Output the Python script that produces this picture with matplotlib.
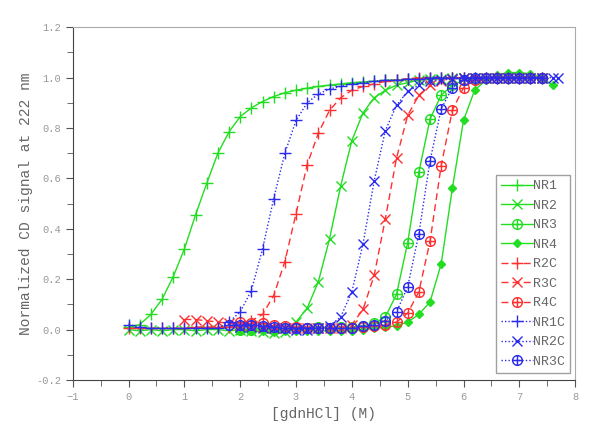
import numpy as np
import matplotlib
matplotlib.use("Agg")
import matplotlib.pyplot as plt
from matplotlib.path import Path

# gdnHCl concentration grid (M), shared by all series
gdn = [0.0, 0.2, 0.4, 0.6, 0.8, 1.0, 1.2, 1.4, 1.6, 1.8,
       2.0, 2.2, 2.4, 2.6, 2.8, 3.0, 3.2, 3.4, 3.6, 3.8,
       4.0, 4.2, 4.4, 4.6, 4.8, 5.0, 5.2, 5.4, 5.6, 5.8,
       6.0, 6.2, 6.4, 6.6, 6.8, 7.0, 7.2, 7.4, 7.6, 7.7]

# normalized CD signal, each series starts at gdn[start]
nr1 = [0.01, 0.02, 0.06, 0.12, 0.21, 0.32, 0.455, 0.58, 0.70, 0.785,
       0.845, 0.88, 0.905, 0.925, 0.94, 0.95, 0.958, 0.965, 0.97, 0.975,
       0.98, 0.983, 0.986, 0.989, 0.991, 0.993, 0.995, 0.996, 0.997, 0.998,
       0.999, 1.0, 1.0, 1.0, 1.0, 1.0, 1.0, 1.0]
nr2 = [0.0, -0.005, 0.0, -0.005, 0.0, 0.0, -0.005, 0.0, 0.0, -0.005,
       0.0, -0.005, -0.01, -0.015, -0.01, 0.03, 0.085, 0.19, 0.36, 0.57,
       0.75, 0.86, 0.92, 0.95, 0.97, 0.98, 0.99, 0.993, 0.996, 0.998,
       1.0, 1.0, 1.0, 1.0, 1.0, 1.0, 1.0, 1.0]
nr3 = [0.0, 0.0, 0.005, 0.0, 0.005, 0.005, 0.005, 0.01, 0.005, 0.01,
       0.01, 0.015, 0.025, 0.05, 0.14, 0.345, 0.625, 0.835, 0.93, 0.97,
       0.99, 0.995, 1.0, 1.0, 1.0, 1.0, 1.0, 1.0]
nr4 = [-0.005, -0.005, -0.005, -0.01, -0.005, -0.005, -0.005, -0.005, -0.005, -0.005,
       -0.005, 0.0, 0.005, 0.01, 0.015, 0.03, 0.06, 0.11, 0.26, 0.56,
       0.83, 0.95, 0.99, 1.01, 1.02, 1.02, 1.015, 1.0, 0.97]
r2c = [0.005, 0.005, 0.005, 0.005, 0.005, 0.005, 0.01, 0.01, 0.01, 0.01,
       0.02, 0.035, 0.06, 0.135, 0.27, 0.46, 0.655, 0.78, 0.87, 0.92,
       0.95, 0.965, 0.975, 0.985, 0.99, 0.995, 1.0, 1.0, 1.0, 1.0,
       1.0, 1.0, 1.0, 1.0, 1.0, 1.0, 1.0, 1.0]
r3c = [0.04, 0.04, 0.035, 0.03, 0.025, 0.02, 0.015, 0.01, 0.005, 0.005,
       0.005, 0.005, 0.005, 0.005, 0.005, 0.02, 0.08, 0.215, 0.44, 0.68,
       0.85, 0.93, 0.97, 0.985, 0.995, 1.0, 1.0, 1.0, 1.0, 1.0,
       1.0, 1.0, 1.0]
r4c = [0.03, 0.028, 0.025, 0.02, 0.015, 0.01, 0.005, 0.005, 0.005, 0.005,
       0.005, 0.01, 0.015, 0.02, 0.03, 0.065, 0.15, 0.35, 0.65, 0.87,
       0.96, 0.99, 1.0, 1.0, 1.0, 1.0, 1.0, 1.0]
nr1c = [0.02, 0.01, 0.005, 0.005, 0.005, 0.005, 0.005, 0.005, 0.005, 0.03,
        0.07, 0.155, 0.32, 0.52, 0.70, 0.83, 0.90, 0.935, 0.955, 0.965,
        0.975, 0.98, 0.985, 0.99, 0.99, 0.995, 0.995, 1.0, 1.0, 1.0,
        1.0, 1.0, 1.0, 1.0, 1.0, 1.0, 1.0, 1.0]
nr2c = [0.01, 0.01, 0.005, 0.005, 0.005, 0.0, 0.0, 0.005, 0.015, 0.05,
        0.15, 0.34, 0.59, 0.79, 0.89, 0.945, 0.97, 0.985, 0.99, 0.995,
        1.0, 1.0, 1.0, 1.0, 1.0, 1.0, 1.0, 1.0, 1.0, 1.0]
nr3c = [0.02, 0.02, 0.02, 0.015, 0.01, 0.005, 0.005, 0.005, 0.005, 0.005,
        0.005, 0.005, 0.015, 0.02, 0.035, 0.07, 0.17, 0.38, 0.67, 0.875,
        0.96, 0.99, 1.0, 1.0, 1.0, 1.0, 1.0, 1.0, 1.0]

names = ["NR1", "NR2", "NR3", "NR4", "R2C", "R3C", "R4C", "NR1C", "NR2C", "NR3C"]
series = [nr1, nr2, nr3, nr4, r2c, r3c, r4c, nr1c, nr2c, nr3c]
starts = [0, 0, 10, 10, 0, 5, 10, 0, 10, 9]

green, red, blue = "#22dd22", "#ff3030", "#2b2bee"

# circle with a plus inside
oplus = Path.make_compound_path(
    Path.unit_circle(),
    Path([(-1, 0), (1, 0)], [Path.MOVETO, Path.LINETO]),
    Path([(0, -1), (0, 1)], [Path.MOVETO, Path.LINETO]),
)

styles = [
    dict(color=green, ls="-", marker="+", ms=8),
    dict(color=green, ls="-", marker="x", ms=7),
    dict(color=green, ls="-", marker=oplus, ms=7, mfc="none"),
    dict(color=green, ls="-", marker="D", ms=4),
    dict(color=red, ls=(0, (5, 3)), marker="+", ms=8),
    dict(color=red, ls=(0, (5, 3)), marker="x", ms=7),
    dict(color=red, ls=(0, (5, 3)), marker=oplus, ms=7, mfc="none"),
    dict(color=blue, ls=(0, (1, 1.5)), marker="+", ms=8),
    dict(color=blue, ls=(0, (1, 1.5)), marker="x", ms=7),
    dict(color=blue, ls=(0, (1, 1.5)), marker=oplus, ms=7, mfc="none"),
]

plt.rcParams["font.family"] = ["Liberation Mono", "DejaVu Sans Mono"]

fig = plt.figure(figsize=(6.01, 4.46), dpi=100)
ax = fig.add_axes([0.121, 0.148, 0.836, 0.791])

for name, y, s, st in zip(names, series, starts, styles):
    x = gdn[s:s + len(y)]
    ax.plot(x, y, lw=1.0, mew=1.0, label=name, **st)

ax.set_xlim(-1, 8)
ax.set_ylim(-0.2, 1.2)
ax.set_xticks(np.arange(-1, 9, 1))
ax.set_xticks(np.arange(-0.5, 8, 1), minor=True)
ax.set_yticks(np.arange(-0.2, 1.21, 0.2))
ax.set_yticks(np.arange(-0.1, 1.2, 0.2), minor=True)
ax.set_yticklabels(["-0.2", "0.0", "0.2", "0.4", "0.6", "0.8", "1.0", "1.2"])

for side in ["left", "bottom"]:
    ax.spines[side].set_color("#444444")
for side in ["top", "right"]:
    ax.spines[side].set_color("#aaaaaa")

ax.tick_params(which="both", direction="out", color="#555555", labelcolor="#999999",
               labelsize=7.5, top=False, right=False)
ax.tick_params(which="major", length=5)
ax.tick_params(which="minor", length=4)

ax.set_xlabel("[gdnHCl] (M)", fontsize=10.5, color="#666666")
ax.set_ylabel("Normalized CD signal at 222 nm", fontsize=10.5, color="#666666", labelpad=2)

leg = ax.legend(loc="lower right", bbox_to_anchor=(0.99, 0.02), fontsize=9.5,
                frameon=True, fancybox=False, handlelength=2.4, handletextpad=0.0,
                labelspacing=0.55, borderpad=0.4, borderaxespad=0.0, labelcolor="#666666")
leg.get_frame().set_edgecolor("#888888")
leg.get_frame().set_linewidth(1.0)

fig.savefig("out.png", dpi=100)
